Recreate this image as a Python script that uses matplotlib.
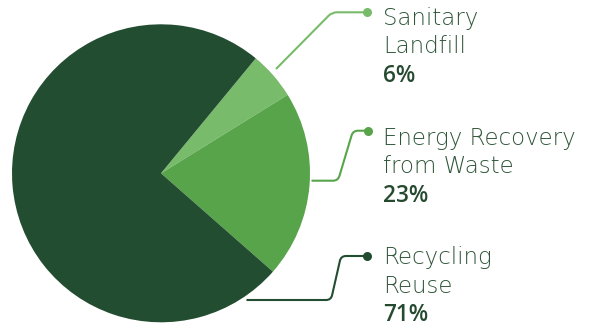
import numpy as np
from matplotlib import pyplot as plt
from matplotlib.path import Path
from matplotlib.patches import PathPatch

# Data
categories = ['Sanitary\nLandfill', 'Energy Recovery\nfrom Waste', 'Recycling\nReuse']
shares = [5.2, 20.3, 74.5]          # slice sizes as drawn
pct_labels = ['6%', '23%', '71%']
colors = ['#78bb6a', '#58a44a', '#234d30']

W, H = 601, 329
fig = plt.figure(figsize=(W / 100, H / 100), dpi=100)
ax = fig.add_axes([0, 0, 1, 1])

cx, cy, R = 161, H - 173.3, 149
ax.pie(shares, colors=colors, center=(cx, cy), radius=R, startangle=50.5,
       counterclock=False, wedgeprops=dict(linewidth=0))
ax.set_xlim(0, W)
ax.set_ylim(0, H)
ax.set_aspect('equal')
ax.axis('off')


def leader(pts, color):
    # polyline with rounded corners (pts in pixel coords, y from top)
    pts = [(x, H - y) for x, y in pts]
    verts = [pts[0]]
    codes = [Path.MOVETO]
    for i in range(1, len(pts) - 1):
        p0, p1, p2 = np.array(pts[i - 1]), np.array(pts[i]), np.array(pts[i + 1])
        r = 5
        a = p1 + (p0 - p1) / np.linalg.norm(p0 - p1) * r
        b = p1 + (p2 - p1) / np.linalg.norm(p2 - p1) * r
        verts += [tuple(a), tuple(p1), tuple(b)]
        codes += [Path.LINETO, Path.CURVE3, Path.CURVE3]
    verts.append(pts[-1])
    codes.append(Path.LINETO)
    ax.add_patch(PathPatch(Path(verts, codes), fill=False, edgecolor=color,
                           linewidth=1.5, capstyle='butt'))
    ax.plot(*pts[-1], 'o', color=color, markersize=6.5, markeredgewidth=0)


paths = [
    [(276, 69), (332, 12.3), (367, 12.3)],
    [(311.5, 180.7), (338, 180.7), (353, 130.7), (367.5, 130.7)],
    [(246.5, 300), (331, 300), (341, 256), (366.5, 256)],
]
baselines = [25, 145, 264.3]
text_x = 383
line_gap = 28.3

for cat, pct, col, pth, yb in zip(categories, pct_labels, colors, paths, baselines):
    leader(pth, col)
    for j, line in enumerate(cat.split('\n')):
        ax.text(text_x, H - (yb + j * line_gap), line, fontsize=16.5,
                family='DejaVu Sans', fontweight='light', color='#2f5538',
                va='baseline', ha='left')
    ax.text(text_x, H - (yb + 2 * line_gap), pct, fontsize=16.3,
            family='Open Sans', fontweight='semibold', color='#264a30',
            va='baseline', ha='left')

fig.savefig('out.png', dpi=100)
